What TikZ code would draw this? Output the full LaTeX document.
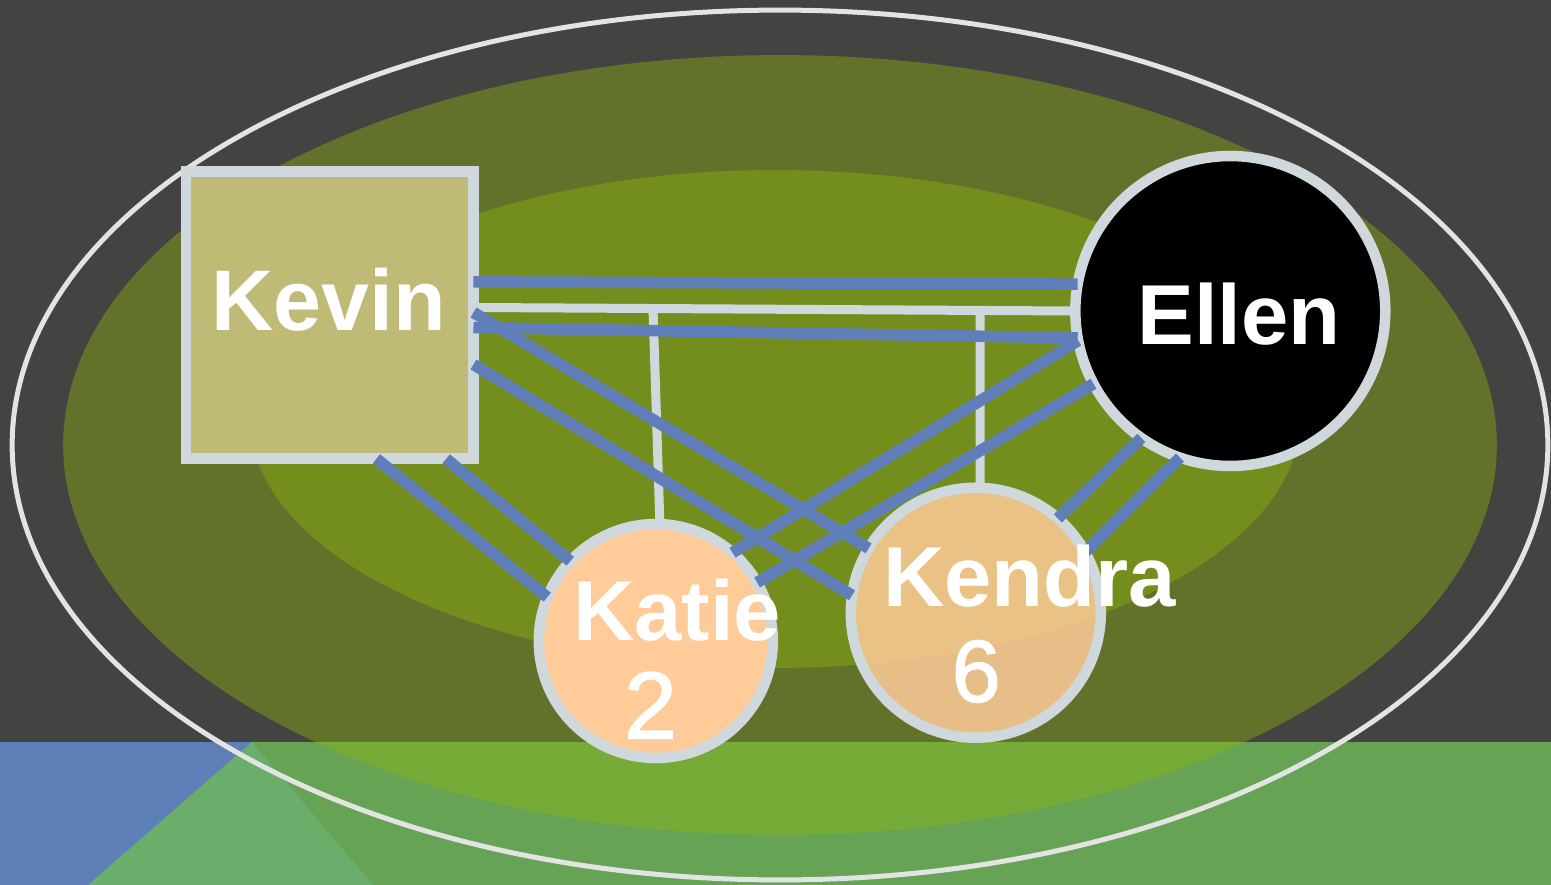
\documentclass[tikz,border=0pt]{standalone}
\usepackage{fontspec}
\setmainfont{Liberation Sans}
\newfontfamily\numfont[FakeBold=1.6]{Liberation Sans}
\definecolor{bgdark}{HTML}{434341}
\definecolor{stripgreen}{HTML}{67A355}
\definecolor{stripblue}{HTML}{5F7FB9}
\definecolor{stripmint}{HTML}{6AAE6C}
\definecolor{olivefill}{HTML}{91B90A}
\definecolor{ringgray}{HTML}{E2E4E2}
\definecolor{bordergray}{HTML}{CFD8DC}
\definecolor{edgeblue}{HTML}{607FBA}
\definecolor{khaki}{HTML}{BFBB77}
\definecolor{peach}{HTML}{FFCC99}
\begin{document}
\begin{tikzpicture}[x=0.02cm,y=-0.02cm,
  nodeborder/.style={draw=bordergray, line width=0.21cm, inner sep=0pt, outer sep=0pt},
  personcircle/.style={nodeborder, circle},
  kinedge/.style={line width=0.23cm, draw=edgeblue},
  familyedge/.style={line width=0.18cm, draw=bordergray},
  nametext/.style={text=white, inner sep=0pt, anchor=base, font=\fontsize{48.4}{58}\selectfont\bfseries},
  numtext/.style={text=white, inner sep=0pt, anchor=base}
]
\useasboundingbox (0,0) rectangle (1551,885);
% background
\fill[bgdark] (0,0) rectangle (1551,742);
\fill[stripgreen] (0,742) rectangle (1551,885);
\fill[stripblue] (0,742) -- (252,742) -- (88,885) -- (0,885) -- cycle;
\fill[stripmint] (252,742) -- (88,885) -- (373,885) -- cycle;
% ellipses
\fill[olivefill, fill opacity=0.4] (780,445) ellipse [x radius=14.34cm, y radius=7.8cm];
\fill[olivefill, fill opacity=0.4] (775,419) ellipse [x radius=10.5cm, y radius=4.98cm];
\draw[ringgray, line width=0.1cm] (780,445) ellipse [x radius=15.36cm, y radius=8.7cm];
% nodes
\node[nodeborder, rectangle, fill=khaki, minimum size=5.75cm] (Kevin) at (329.75,315) {};
\node[personcircle, fill=black, minimum size=6.2cm] (Ellen) at (1230.3,311) {};
\node[personcircle, fill=peach, minimum size=4.68cm] (Katie) at (655.8,641) {};
\node[personcircle, fill=peach, fill opacity=0.85, minimum size=5cm] (Kendra) at (975.8,612.7) {};
% family connector
\coordinate (dropKatie) at (653,308.5);
\coordinate (dropKendra) at (980,310.4);
\draw[familyedge] (Kevin.3) -- (Ellen.180);
\draw[familyedge] (dropKatie) -- (Katie.88);
\draw[familyedge] (dropKendra) -- (Kendra.88);
% kin edges
\draw[kinedge] (Kevin.13.4) -- (Ellen.170.06);
\draw[kinedge] (Kevin.-5.78) -- (Ellen.190.5);
\draw[kinedge] (Kevin.1.2) -- (Kendra.149);
\draw[kinedge] (Kevin.-19.92) -- (Kendra.172.5);
\draw[kinedge] (Kevin.-72.07) -- (Katie.158.86);
\draw[kinedge] (Kevin.-51.03) -- (Katie.137.3);
\draw[kinedge] (Ellen.191) -- (Katie.49.2);
\draw[kinedge] (Ellen.208.4) -- (Katie.30.35);
\draw[kinedge] (Ellen.235.3) -- (Kendra.49.25);
\draw[kinedge] (Ellen.251.6) -- (Kendra.29.5);
% labels
\node[nametext, font=\fontsize{49}{58}\selectfont\bfseries] (KevinText) at (328.4,330) {Kevin};
\node[nametext] (EllenText) at (1239.2,344) {Ellen};
\node[nametext] (KatieText) at (677,640) {Katie};
\node[numtext, font=\fontsize{54}{60}\selectfont\numfont] (KatieNum) at (650.5,738.3) {2};
\node[nametext] (KendraText) at (1029.5,606.7) {Kendra};
\node[numtext, font=\fontsize{50}{60}\selectfont\numfont] (KendraNum) at (976.2,701.7) {6};
\end{tikzpicture}
\end{document}
